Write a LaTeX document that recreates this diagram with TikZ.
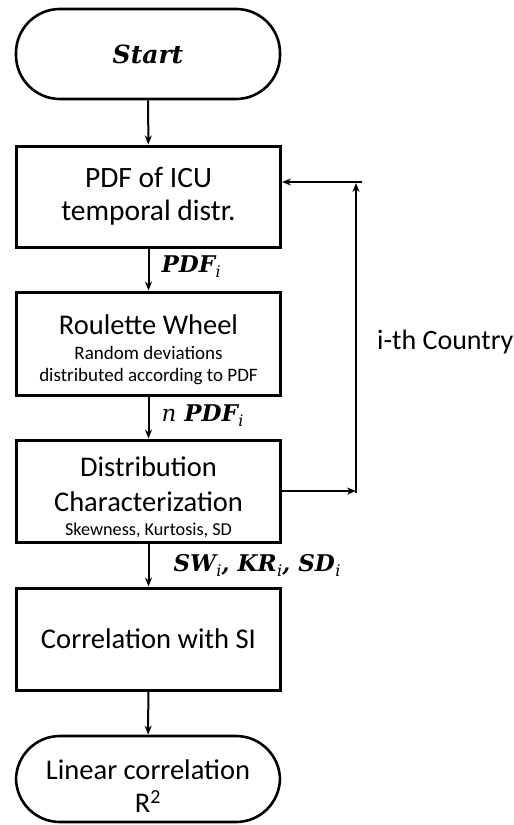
\documentclass[tikz,border=0pt]{standalone}
\usepackage{fontspec}
\setmainfont{Carlito}
\newfontfamily\serifbi{DejaVu Serif}
\usetikzlibrary{arrows.meta,calc}
\newcommand{\subi}{\kern0.5pt\raisebox{-5pt}{\fontsize{16}{16}\selectfont\mdseries\serifbi\itshape i}}
\begin{document}
\begin{tikzpicture}[x=1pt,y=-1pt,
  term/.style={draw,line width=2.6pt,rounded corners=44pt,minimum width=264pt,align=center},
  box/.style={draw,line width=3pt,minimum width=264pt,align=center},
  arr/.style={line width=2pt,-{Stealth[length=9pt,width=7pt]}},
  big/.style={font=\fontsize{28.5}{33}\selectfont},
  small/.style={font=\fontsize{19}{22}\selectfont,align=center},
  lab/.style={font=\fontsize{23}{26}\selectfont\serifbi\bfseries\itshape,anchor=west}]
\useasboundingbox (0,0) rectangle (514,825);
\node[term,minimum height=90pt,font=\fontsize{25}{28}\selectfont\serifbi\bfseries\itshape] (start) at (148,54) {Start};
\node[box,minimum height=101pt,font=\fontsize{29.5}{33}\selectfont] (b1) at (148.5,196.5) {PDF of ICU\\temporal distr.};
\node[box,minimum height=103pt,inner sep=0pt] (b2) at (148.5,343.5) {};
\node[big,align=center] (b2t) at (148.5,325) {Roulette Wheel};
\node[small] (b2s) at (148.5,366) {Random deviations\\distributed according to PDF};
\node[box,minimum height=102pt,inner sep=0pt] (b3) at (148.5,491) {};
\node[big,align=center,font=\fontsize{28.5}{35}\selectfont] (b3t) at (148.5,484.5) {Distribution\\Characterization};
\node[small,font=\fontsize{18.2}{22}\selectfont] (b3s) at (148.5,530) {Skewness, Kurtosis, SD};
\node[box,minimum height=102pt,font=\fontsize{28.6}{31}\selectfont] (b4) at (148.5,639) {Correlation with SI};
\node[term,minimum height=86pt,inner sep=0pt] (end) at (148,779) {};
\node[big,align=center] (endt) at (148,786) {Linear correlation\\R\textsuperscript{2}};
\draw[arr] (start) -- (b1);
\draw[arr] (b1) -- (b2);
\draw[arr] (b2) -- (b3);
\draw[arr] (b3) -- (b4);
\draw[arr] (b4) -- (end);
\coordinate (fbB) at (356,491);
\coordinate (fbB2) at (356,493);
\coordinate (fbT) at (356,183);
\coordinate (fbH) at (362,182);
\draw[arr] (b3.east |- fbB) -- (fbB);
\draw[arr] (fbB2) -- (fbT);
\draw[arr] (fbH) -- (b1.east |- fbH);
\node[lab] (l1) at (158,267) {PDF\subi};
\node[lab] (l2) at (158,416) {{\mdseries\serifbi\itshape n} PDF\subi};
\node[lab] (l3) at (170,565) {SW\subi, KR\subi, SD\subi};
\node[font=\fontsize{28}{30}\selectfont,anchor=west,inner sep=0pt] (cty) at (377,342) {i-th Country};
\end{tikzpicture}
\end{document}
